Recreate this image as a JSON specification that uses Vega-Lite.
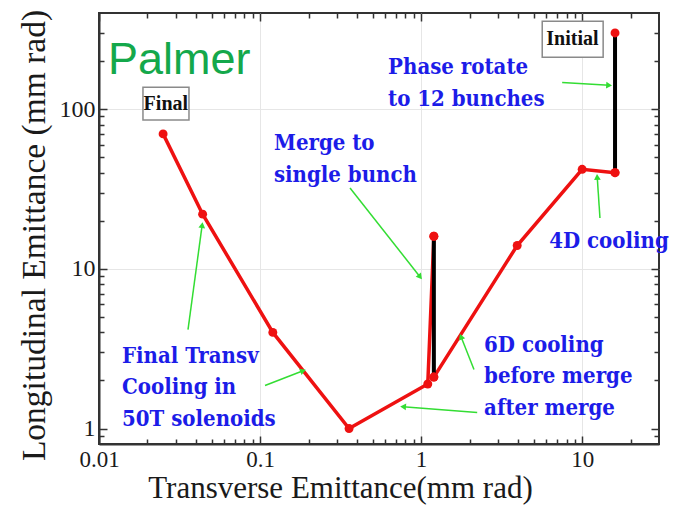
{
  "$schema": "https://vega.github.io/schema/vega-lite/v6.json",
  "width": 560,
  "height": 431,
  "autosize": {"type": "none"},
  "padding": {"left": 99, "top": 13, "right": 18, "bottom": 61},
  "background": "white",
  "config": {"view": {"stroke": "#333333", "strokeWidth": 2}},
  "datasets": {
    "track": [
      {"x": 0.025, "y": 70, "leg": "A", "step": 1},
      {"x": 0.044, "y": 22, "leg": "A", "step": 2},
      {"x": 0.12, "y": 4, "leg": "A", "step": 3},
      {"x": 0.357, "y": 1, "leg": "A", "step": 4},
      {"x": 1.1, "y": 1.9, "leg": "A", "step": 5},
      {"x": 1.2, "y": 16, "leg": "A", "step": 6},
      {"x": 1.2, "y": 16, "leg": "C", "step": 1},
      {"x": 1.2, "y": 2.1, "leg": "C", "step": 2},
      {"x": 1.2, "y": 2.1, "leg": "B", "step": 1},
      {"x": 3.95, "y": 14, "leg": "B", "step": 2},
      {"x": 10, "y": 42, "leg": "B", "step": 3},
      {"x": 16, "y": 40, "leg": "B", "step": 4},
      {"x": 16, "y": 40, "leg": "D", "step": 1},
      {"x": 16, "y": 300, "leg": "D", "step": 2}
    ],
    "arrows": [
      {"x": 0.0357, "y": 4.16, "x2": 0.0437, "y2": 18.8},
      {"x": 0.1074, "y": 1.86, "x2": 0.185, "y2": 2.3},
      {"x": 0.362, "y": 32.1, "x2": 0.986, "y2": 8.9},
      {"x": 2.13, "y": 2.34, "x2": 1.77, "y2": 3.76},
      {"x": 2.23, "y": 1.26, "x2": 0.773, "y2": 1.37},
      {"x": 7.51, "y": 147, "x2": 14.7, "y2": 141},
      {"x": 12.9, "y": 20.8, "x2": 12.4, "y2": 37.6}
    ],
    "notes": [
      {"x": 0.624, "y": 165, "text": ["Phase rotate", "to 12 bunches"]},
      {"x": 0.122, "y": 55.4, "text": ["Merge to", "single bunch"]},
      {"x": 6.24, "y": 13.5, "text": ["4D cooling"]},
      {"x": 0.0139, "y": 2.585, "text": ["Final Transv", "Cooling in", "50T solenoids"]},
      {"x": 2.46, "y": 3.03, "text": ["6D cooling", "before merge", "after merge"]}
    ],
    "boxes": [
      {"x": 0.01875, "x2": 0.0362, "y": 85.4, "y2": 137, "cx": 0.026, "cy": 108, "text": "Final"},
      {"x": 5.65, "x2": 13.5, "y": 211, "y2": 355, "cx": 8.7, "cy": 274, "text": "Initial"}
    ],
    "brand": [{"x": 0.01137, "y": 165, "text": "Palmer"}]
  },
  "layer": [
    {
      "data": {"name": "track"},
      "transform": [{"filter": "datum.leg == 'A' || datum.leg == 'B'"}],
      "mark": {"type": "line", "color": "#ee1111", "strokeWidth": 3.5},
      "encoding": {
        "x": {"field": "x", "type": "quantitative", "scale": {"type": "log", "domain": [0.01, 30], "nice": false},
          "axis": {
            "orient": "bottom",
            "values": [0.01,0.02,0.03,0.04,0.05,0.06,0.07,0.08,0.09,0.1,0.2,0.3,0.4,0.5,0.6,0.7,0.8,0.9,1,2,3,4,5,6,7,8,9,10,20],
            "format": "~g",
            "labelExpr": "(datum.value == 0.01 || datum.value == 0.1 || datum.value == 1 || datum.value == 10) ? datum.label : ''",
            "labelOverlap": false, "labelFlush": false, "labelBound": false,
            "tickSize": {"condition": {"test": "datum.value == 0.01 || datum.value == 0.1 || datum.value == 1 || datum.value == 10", "value": -8}, "value": -5},
            "tickColor": "#333333", "tickWidth": 1.5,
            "domainColor": "#333333", "domainWidth": 2,
            "grid": true, "gridColor": "#e6e6e6", "gridWidth": 1,
            "gridOpacity": {"condition": {"test": "datum.value == 0.1 || datum.value == 1 || datum.value == 10", "value": 1}, "value": 0},
            "labelFont": "Liberation Serif", "labelFontSize": 23, "labelColor": "#1a1a1a", "labelPadding": 12,
            "title": "Transverse Emittance(mm rad)",
            "titleFont": "Liberation Serif", "titleFontSize": 31, "titleFontWeight": "normal", "titleColor": "#1a1a1a",
            "titleX": 241, "titleY": 53, "titleBaseline": "alphabetic"
          }},
        "y": {"field": "y", "type": "quantitative", "scale": {"type": "log", "domain": [0.8, 400], "nice": false},
          "axis": {
            "orient": "left",
            "values": [0.9,1,2,3,4,5,6,7,8,9,10,20,30,40,50,60,70,80,90,100,200,300],
            "format": "~g",
            "labelExpr": "(datum.value == 1 || datum.value == 10 || datum.value == 100) ? datum.label : ''",
            "labelOverlap": false, "labelFlush": false, "labelBound": false,
            "tickSize": {"condition": {"test": "datum.value == 1 || datum.value == 10 || datum.value == 100", "value": -8}, "value": -5},
            "tickColor": "#333333", "tickWidth": 1.5,
            "domainColor": "#333333", "domainWidth": 2,
            "grid": true, "gridColor": "#e6e6e6", "gridWidth": 1,
            "gridOpacity": {"condition": {"test": "datum.value == 10 || datum.value == 100", "value": 1}, "value": 0},
            "labelFont": "Liberation Serif", "labelFontSize": 24, "labelColor": "#1a1a1a", "labelPadding": 12,
            "title": "Longitudinal Emittance (mm rad)",
            "titleFont": "Liberation Serif", "titleFontSize": 33.5, "titleFontWeight": "normal", "titleColor": "#1a1a1a",
            "titleX": -55, "titleY": 222, "titleBaseline": "alphabetic", "titleAngle": -90, "titleAlign": "center"
          }},
        "detail": {"field": "leg"},
        "order": {"field": "step"}
      }
    },
    {
      "data": {"name": "track"},
      "transform": [{"filter": "datum.leg == 'C' || datum.leg == 'D'"}],
      "mark": {"type": "line", "color": "#000000", "strokeWidth": 4},
      "encoding": {
        "x": {"field": "x", "type": "quantitative", "scale": {"type": "log", "domain": [0.01, 30], "nice": false},
          "axis": {
            "orient": "top",
            "values": [0.01,0.02,0.03,0.04,0.05,0.06,0.07,0.08,0.09,0.1,0.2,0.3,0.4,0.5,0.6,0.7,0.8,0.9,1,2,3,4,5,6,7,8,9,10,20],
            "labels": false, "domain": false, "grid": false, "title": null,
            "tickSize": {"condition": {"test": "datum.value == 0.01 || datum.value == 0.1 || datum.value == 1 || datum.value == 10", "value": -8}, "value": -5},
            "tickColor": "#333333", "tickWidth": 1.5
          }},
        "y": {"field": "y", "type": "quantitative", "scale": {"type": "log", "domain": [0.8, 400], "nice": false},
          "axis": {
            "orient": "right",
            "values": [0.9,1,2,3,4,5,6,7,8,9,10,20,30,40,50,60,70,80,90,100,200,300],
            "labels": false, "domain": false, "grid": false, "title": null,
            "tickSize": {"condition": {"test": "datum.value == 1 || datum.value == 10 || datum.value == 100", "value": -8}, "value": -5},
            "tickColor": "#333333", "tickWidth": 1.5
          }},
        "detail": {"field": "leg"},
        "order": {"field": "step"}
      }
    },
    {
      "data": {"name": "track"},
      "mark": {"type": "point", "filled": true, "color": "#ee1111", "size": 80, "opacity": 1},
      "encoding": {
        "x": {"field": "x", "type": "quantitative", "scale": {"type": "log", "domain": [0.01, 30], "nice": false}, "axis": null},
        "y": {"field": "y", "type": "quantitative", "scale": {"type": "log", "domain": [0.8, 400], "nice": false}, "axis": null}
      }
    },
    {
      "data": {"name": "arrows"},
      "mark": {"type": "rule", "color": "#33dd33", "strokeWidth": 1.5},
      "encoding": {
        "x": {"field": "x", "type": "quantitative", "scale": {"type": "log", "domain": [0.01, 30], "nice": false}, "axis": null},
        "y": {"field": "y", "type": "quantitative", "scale": {"type": "log", "domain": [0.8, 400], "nice": false}, "axis": null},
        "x2": {"field": "x2"},
        "y2": {"field": "y2"}
      }
    },
    {
      "data": {"name": "arrows"},
      "transform": [{"calculate": "atan2(log(datum.x2 / datum.x) / LN10 * 161, log(datum.y2 / datum.y) / LN10 * 160) * 180 / PI", "as": "heading"}],
      "mark": {"type": "point", "shape": "triangle-up", "filled": true, "color": "#33dd33", "size": 45, "opacity": 1},
      "encoding": {
        "x": {"field": "x2", "type": "quantitative", "scale": {"type": "log", "domain": [0.01, 30], "nice": false}, "axis": null},
        "y": {"field": "y2", "type": "quantitative", "scale": {"type": "log", "domain": [0.8, 400], "nice": false}, "axis": null},
        "angle": {"field": "heading", "type": "quantitative", "scale": null}
      }
    },
    {
      "data": {"name": "notes"},
      "mark": {"type": "text", "align": "left", "baseline": "alphabetic", "font": "DejaVu Serif Condensed, DejaVu Serif", "fontWeight": "bold", "fontSize": 22, "color": "#1c1ce8", "lineHeight": 31.5},
      "encoding": {
        "x": {"field": "x", "type": "quantitative", "scale": {"type": "log", "domain": [0.01, 30], "nice": false}, "axis": null},
        "y": {"field": "y", "type": "quantitative", "scale": {"type": "log", "domain": [0.8, 400], "nice": false}, "axis": null},
        "text": {"field": "text"}
      }
    },
    {
      "data": {"name": "boxes"},
      "mark": {"type": "rect", "fill": "white", "stroke": "#8a8a8a", "strokeWidth": 1.5},
      "encoding": {
        "x": {"field": "x", "type": "quantitative", "scale": {"type": "log", "domain": [0.01, 30], "nice": false}, "axis": null},
        "y": {"field": "y", "type": "quantitative", "scale": {"type": "log", "domain": [0.8, 400], "nice": false}, "axis": null},
        "x2": {"field": "x2"},
        "y2": {"field": "y2"}
      }
    },
    {
      "data": {"name": "boxes"},
      "mark": {"type": "text", "align": "center", "baseline": "middle", "font": "Liberation Serif", "fontSize": 20, "fontWeight": "bold", "color": "#111111"},
      "encoding": {
        "x": {"field": "cx", "type": "quantitative", "scale": {"type": "log", "domain": [0.01, 30], "nice": false}, "axis": null},
        "y": {"field": "cy", "type": "quantitative", "scale": {"type": "log", "domain": [0.8, 400], "nice": false}, "axis": null},
        "text": {"field": "text"}
      }
    },
    {
      "data": {"name": "brand"},
      "mark": {"type": "text", "align": "left", "baseline": "alphabetic", "font": "Liberation Sans", "fontSize": 45, "color": "#14a84b"},
      "encoding": {
        "x": {"field": "x", "type": "quantitative", "scale": {"type": "log", "domain": [0.01, 30], "nice": false}, "axis": null},
        "y": {"field": "y", "type": "quantitative", "scale": {"type": "log", "domain": [0.8, 400], "nice": false}, "axis": null},
        "text": {"field": "text"}
      }
    }
  ],
  "resolve": {"axis": {"x": "independent", "y": "independent"}}
}
